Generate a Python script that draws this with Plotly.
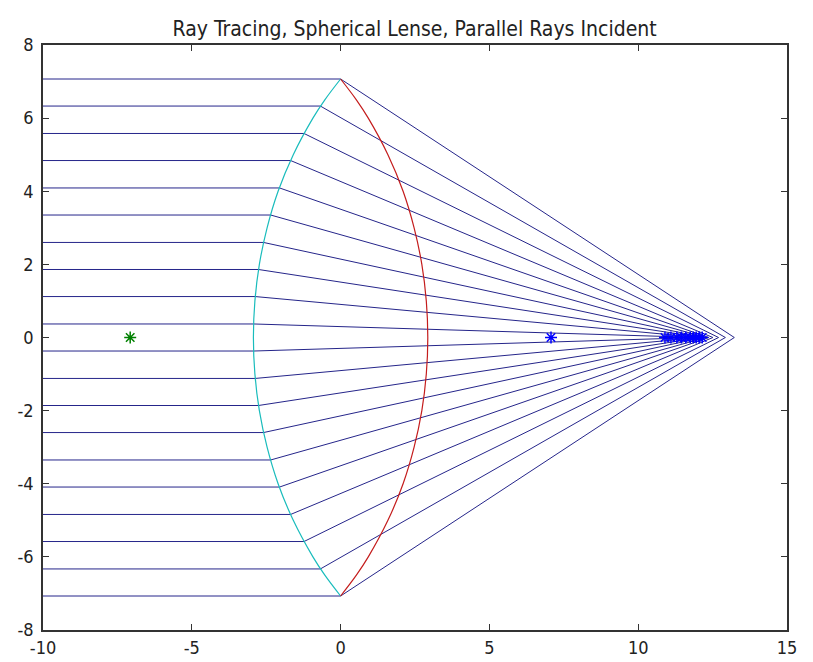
import plotly.graph_objects as go

# ray heights (incident parallel rays)
ray_h = [7.07, 6.33, 5.58, 4.84, 4.09, 3.35, 2.60, 1.86, 1.12, 0.37,
         -0.37, -1.12, -1.86, -2.60, -3.35, -4.09, -4.84, -5.58, -6.33, -7.07]
# x where each ray meets the front (cyan) surface
hit_x = [0.00, -0.68, -1.23, -1.68, -2.05, -2.35, -2.59, -2.76, -2.87, -2.92,
         -2.92, -2.87, -2.76, -2.59, -2.35, -2.05, -1.68, -1.23, -0.68, 0.00]
# x where each refracted ray reaches the axis
end_x = [13.23, 12.93, 12.70, 12.51, 12.37, 12.27, 12.18, 12.13, 12.09, 12.07,
         12.07, 12.09, 12.13, 12.18, 12.27, 12.37, 12.51, 12.70, 12.93, 13.23]
x_start = -10.0

# lens surfaces
arc_y = [7.07, 6.5, 6.0, 5.0, 4.0, 3.0, 2.0, 1.0, 0.0,
         -1.0, -2.0, -3.0, -4.0, -5.0, -6.0, -6.5, -7.07]
front_x = [0.00, -0.53, -0.93, -1.59, -2.10, -2.47, -2.73, -2.88, -2.93,
           -2.88, -2.73, -2.47, -2.10, -1.59, -0.93, -0.53, 0.00]
back_x = [0.00, 0.53, 0.93, 1.59, 2.10, 2.47, 2.73, 2.88, 2.93,
          2.88, 2.73, 2.47, 2.10, 1.59, 0.93, 0.53, 0.00]

# centres of curvature
green_pt = (-7.07, 0.0)
blue_pt = (7.07, 0.0)
# focal crossing points
focus_x = [10.9, 11.1, 11.3, 11.45, 11.6, 11.75, 11.85, 11.95, 12.05, 12.15]

x_ticks = [-10, -5, 0, 5, 10, 15]
y_ticks = [-8, -6, -4, -2, 0, 2, 4, 6, 8]

rx, ry = [], []
for h, hx, ex in zip(ray_h, hit_x, end_x):
    rx += [x_start, hx, ex, None]
    ry += [h, h, 0.0, None]

fig = go.Figure()
fig.add_trace(go.Scatter(x=rx, y=ry, mode="lines",
                         line=dict(color="#25258a", width=1), hoverinfo="skip"))
fig.add_trace(go.Scatter(x=front_x, y=arc_y, mode="lines",
                         line=dict(color="#19bcbc", width=1.2, shape="spline")))
fig.add_trace(go.Scatter(x=back_x, y=arc_y, mode="lines",
                         line=dict(color="#c41c1c", width=1.2, shape="spline")))
fig.add_trace(go.Scatter(x=[green_pt[0]], y=[green_pt[1]], mode="markers",
                         marker=dict(symbol="asterisk-open", size=10, color="#008000",
                                     line=dict(color="#008000", width=1.5))))
fig.add_trace(go.Scatter(x=[blue_pt[0]], y=[blue_pt[1]], mode="markers",
                         marker=dict(symbol="asterisk-open", size=10, color="#0000ff",
                                     line=dict(color="#0000ff", width=1.5))))
fig.add_trace(go.Scatter(x=focus_x, y=[0.0] * len(focus_x), mode="markers",
                         marker=dict(symbol="asterisk-open", size=10, color="#0000ff",
                                     line=dict(color="#0000ff", width=1.5))))

axis_common = dict(showline=True, linecolor="#333333", linewidth=1.5, mirror="ticks",
                   ticks="inside", ticklen=6, tickcolor="#333333", showgrid=False,
                   zeroline=False, automargin=False,
                   tickfont=dict(size=18, color="#222222"))

fig.update_layout(
    width=813, height=662,
    margin=dict(l=43, r=26, t=45, b=32),
    paper_bgcolor="white", plot_bgcolor="white",
    showlegend=False,
    font=dict(family="Liberation Sans Narrow, DejaVu Sans Condensed, Arial", color="#222222"),
    title=dict(text="Ray Tracing, Spherical Lense, Parallel Rays Incident",
               x=0.51, xanchor="center", y=0.957, yanchor="middle", yref="container",
               font=dict(size=21, color="#222222")),
    xaxis=dict(range=[-10, 15], tickvals=x_ticks, ticktext=[str(v) for v in x_ticks],
               ticklabelstandoff=1, **axis_common),
    yaxis=dict(range=[-8, 8], tickvals=y_ticks, ticktext=[str(v) for v in y_ticks],
               ticklabelstandoff=4, **axis_common),
)

fig.write_html("out.html")
